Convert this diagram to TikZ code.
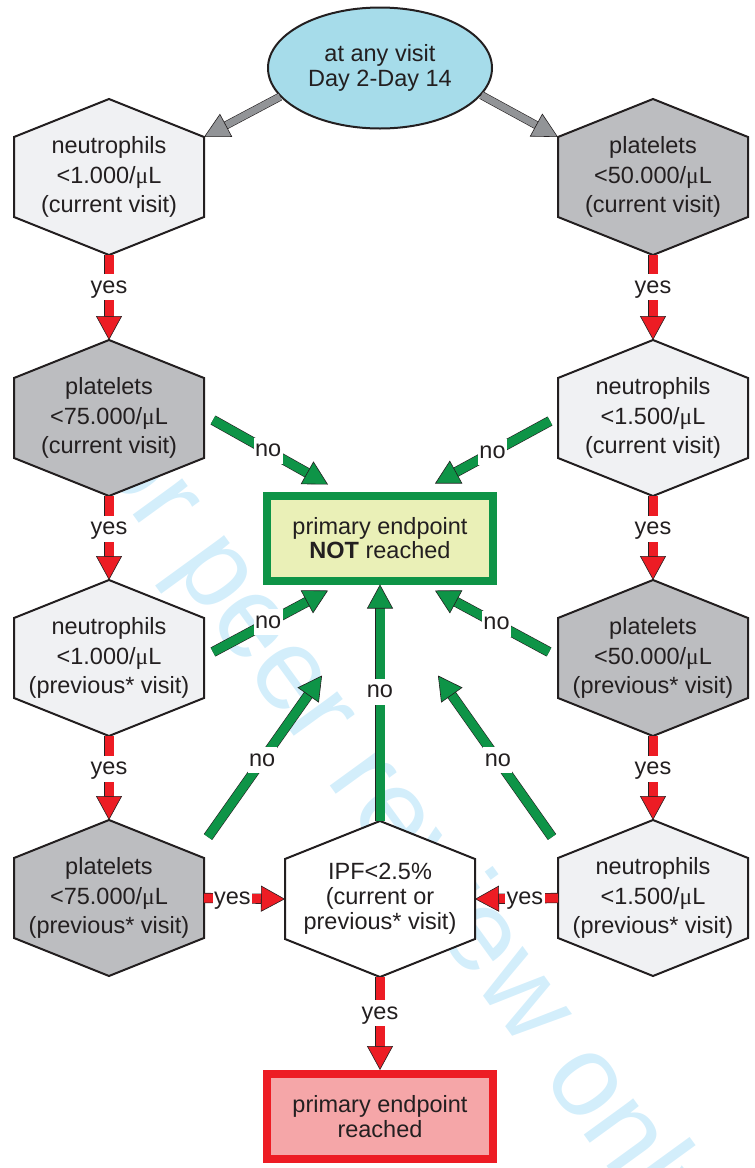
\documentclass[tikz,border=0pt]{standalone}
\usepackage{fontspec}
\setmainfont{Liberation Sans}
\newfontfamily\greekfont{Liberation Serif}
\usepackage{tikz}
\usetikzlibrary{arrows.meta, positioning, calc, shapes.geometric}
\definecolor{linedark}{HTML}{231F20}
\definecolor{hexlight}{HTML}{F0F1F3}
\definecolor{hexgray}{HTML}{BCBDC0}
\definecolor{visblue}{HTML}{A6DCEA}
\definecolor{nogreen}{HTML}{0E9447}
\definecolor{yesred}{HTML}{ED1C24}
\definecolor{startgray}{HTML}{929497}
\definecolor{boxyellow}{HTML}{EAF0B7}
\definecolor{boxpink}{HTML}{F5A6A8}
\definecolor{wmblue}{HTML}{D3EEFB}
\newcommand{\perul}{{\greekfont μ}L}
\newcommand{\hexfont}{\fontsize{23.5pt}{29.5pt}\selectfont}
\newcommand{\boxfont}{\fontsize{23.5pt}{24.5pt}\selectfont}
\newcommand{\ipffont}{\fontsize{23.5pt}{25pt}\selectfont}

\begin{document}
\begin{tikzpicture}[
    x=1pt, y=-1pt,
    every node/.style={text=linedark},
    hexbox/.style={minimum width=194pt, minimum height=160pt, inner sep=0pt, outer sep=-2pt, align=center, font=\hexfont,
        path picture={\filldraw[fill=#1, draw=linedark, line width=2pt]
            ($(path picture bounding box.north)+(0,2)$) -- ($(path picture bounding box.north east)+(-2,40)$)
            -- ($(path picture bounding box.south east)+(-2,-40)$) -- ($(path picture bounding box.south)+(0,-2)$)
            -- ($(path picture bounding box.south west)+(2,-40)$) -- ($(path picture bounding box.north west)+(2,40)$) -- cycle;}},
    visit/.style={ellipse, draw=linedark, line width=2pt, fill=visblue, minimum width=224pt, minimum height=121pt, inner sep=0pt, align=center, font=\boxfont},
    endbox/.style={rectangle, line width=8pt, minimum width=226pt, minimum height=85pt, inner sep=0pt, align=center, font=\boxfont},
    lbl/.style={fill=white, inner xsep=1.5pt, inner ysep=2pt, text height=17pt, text depth=5pt, font=\hexfont},
    watermark/.style={text=wmblue, font=\fontsize{116pt}{116pt}\selectfont, rotate=-54},
    startarr/.style={draw=startgray, line width=7pt, -{Triangle[length=25pt, width=26pt, fill=startgray, color=linedark, line width=0.6pt]},
        preaction={draw=linedark, line width=8.2pt, -, shorten >=24pt}},
    yesarr/.style={draw=yesred, line width=9pt, -{Triangle[length=24pt, width=26pt, fill=yesred, color=linedark, line width=0.6pt]},
        preaction={draw=linedark, line width=10.2pt, -, shorten >=23pt}},
    noarr/.style={draw=nogreen, line width=9pt, -{Triangle[length=24pt, width=26pt, fill=nogreen, color=linedark, line width=0.6pt]},
        preaction={draw=linedark, line width=10.2pt, -, shorten >=23pt}},
]
\useasboundingbox (0,0) rectangle (755,1168);

% watermark behind everything
\node[watermark] (wm) at (382,806) {For peer review only};

% start
\node[visit] (vis) at (380,68) {at any visit\\Day 2-Day 14};

% Left column
\node[hexbox=hexlight] (neu1) at (109,177) {neutrophils\\<1.000/\perul\\(current visit)};
\node[hexbox=hexgray] (plt2) at (109,418) {platelets\\<75.000/\perul\\(current visit)};
\node[hexbox=hexlight] (neu3) at (109,658) {neutrophils\\<1.000/\perul\\(previous* visit)};
\node[hexbox=hexgray] (plt4) at (109,898) {platelets\\<75.000/\perul\\(previous* visit)};

% Right column
\node[hexbox=hexgray] (plt1) at (653,177) {platelets\\<50.000/\perul\\(current visit)};
\node[hexbox=hexlight] (neu2) at (653,418) {neutrophils\\<1.500/\perul\\(current visit)};
\node[hexbox=hexgray] (plt3) at (653,658) {platelets\\<50.000/\perul\\(previous* visit)};
\node[hexbox=hexlight] (neu4) at (653,898) {neutrophils\\<1.500/\perul\\(previous* visit)};

% Middle
\node[hexbox=white, font=\ipffont] (ipf) at (380,899) {IPF<2.5\%\\(current or\\previous* visit)};
\node[endbox, draw=nogreen, fill=boxyellow] (notreached) at (380,538) {primary endpoint\\\textbf{NOT} reached};
\node[endbox, draw=yesred, fill=boxpink] (reached) at (380,1116.5) {primary endpoint\\reached};

% start arrows
\draw[startarr] (vis.196) -- ($(neu1.north east)+(0,38)$);
\draw[startarr] (vis.345) -- ($(plt1.north west)+(0,38)$);

% yes arrows
\draw[yesarr] (neu1.south) -- node[lbl, pos=0.38] {yes} (plt2.north);
\draw[yesarr] (plt2.south) -- node[lbl, pos=0.39] {yes} (neu3.north);
\draw[yesarr] (neu3.south) -- node[lbl, pos=0.39] {yes} (plt4.north);
\draw[yesarr] (plt1.south) -- node[lbl, pos=0.38] {yes} (neu2.north);
\draw[yesarr] (neu2.south) -- node[lbl, pos=0.39] {yes} (plt3.north);
\draw[yesarr] (plt3.south) -- node[lbl, pos=0.39] {yes} (neu4.north);
\draw[yesarr] (plt4.east) -- node[lbl, pos=0.35] {yes} (ipf.west);
\draw[yesarr] (neu4.west) -- node[lbl, pos=0.40] {yes} (ipf.east);
\draw[yesarr] (ipf.south) -- node[lbl, pos=0.39] {yes} (reached.north);

% no arrows
\draw[noarr] ($(plt2.east)+(9,2)$) -- node[lbl, pos=0.48] {no} ($(notreached.north west)+(65,-7)$);
\draw[noarr] ($(neu2.west)+(-8,3)$) -- node[lbl, pos=0.5] {no} ($(notreached.north east)+(-62,-8)$);
\draw[noarr] ($(neu3.east)+(9,-6)$) -- node[lbl, pos=0.48] {no} ($(notreached.south west)+(65,6)$);
\draw[noarr] ($(plt3.west)+(-9,-6)$) -- node[lbl, pos=0.46] {no} ($(notreached.south east)+(-62,6)$);
\draw[noarr] ($(plt4.east)+(4,-61)$) -- node[lbl, pos=0.475] {no} ($(notreached.south)+(-58,91)$);
\draw[noarr] ($(neu4.west)+(-6,-61)$) -- node[lbl, pos=0.475] {no} ($(notreached.south)+(58,91)$);
\draw[noarr] (ipf.north) -- node[lbl, pos=0.546] {no} (notreached.south);

\end{tikzpicture}
\end{document}
